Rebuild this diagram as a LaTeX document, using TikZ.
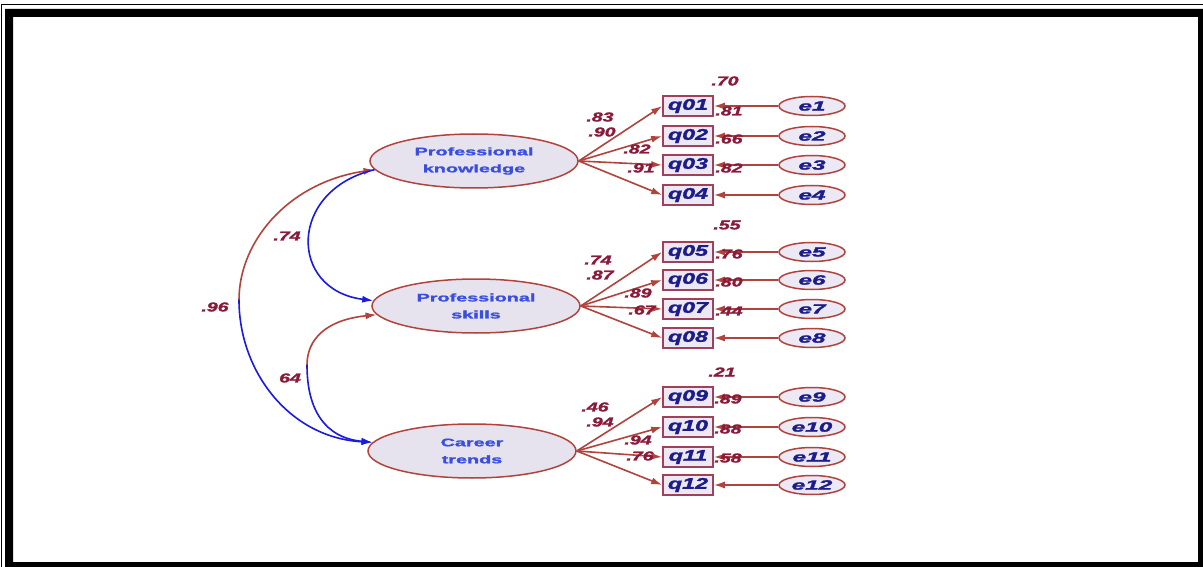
\documentclass[tikz,border=0pt]{standalone}
\usepackage{fontspec}
\setmainfont[BoldFeatures={FakeBold=1.5},BoldItalicFeatures={FakeBold=1.5}]{Liberation Sans}
\usepackage{graphicx}
\usetikzlibrary{arrows.meta,shapes.geometric}
\definecolor{lbl}{HTML}{8A1A3A}
\definecolor{edge}{HTML}{B0443C}
\definecolor{latfill}{HTML}{E6E3EF}
\definecolor{latblue}{HTML}{3A4FE0}
\definecolor{obsfill}{HTML}{ECE8F4}
\definecolor{obsedge}{HTML}{A0405A}
\definecolor{obstext}{HTML}{1C1C8A}
\definecolor{covblue}{HTML}{1A1AE0}
\newcommand\hstr[2]{\scalebox{#1}[1]{#2}}
\begin{document}
\begin{tikzpicture}[x=1pt,y=-1pt,
  lat/.style={ellipse, draw=edge, line width=1.5pt, fill=latfill, minimum width=208pt, minimum height=54pt, inner sep=0pt, align=center, text=latblue, font=\bfseries\fontsize{11}{17}\selectfont},
  obs/.style={rectangle, draw=obsedge, line width=1.6pt, fill=obsfill, minimum width=50pt, minimum height=20pt, inner sep=0pt, text=obstext, font=\bfseries\itshape\fontsize{15.5}{15}\selectfont},
  err/.style={ellipse, draw=edge, line width=1.5pt, fill=obsfill, minimum width=66pt, minimum height=19pt, inner sep=0pt, text=obstext, font=\bfseries\itshape\fontsize{13.5}{13}\selectfont},
  lab/.style={text=lbl, font=\bfseries\itshape\fontsize{13}{12}\selectfont, inner sep=0pt},
  pth/.style={draw=edge, line width=1.6pt, -{Latex[length=11pt,width=7pt]}},
  covr/.style={draw=edge, line width=1.6pt, -{Latex[length=11pt,width=7pt]}},
  covb/.style={draw=covblue, line width=1.6pt, -{Latex[length=11pt,width=7pt]}}
]
\useasboundingbox (0,0) rectangle (1203,567);
\fill[white] (0,0) rectangle (1203,567);
% frame
\draw[black, line width=1.2pt] (1.5,567) -- (1.5,4.5) -- (1203,4.5);
\fill[black, even odd rule] (5,9) rectangle (1203,567) (13,17) rectangle (1198,562);

% latent variables
\node[lat] (K) at (474,161) {\hstr{1.8}{Professional}\\\hstr{1.8}{knowledge}};
\node[lat] (S) at (476,306) {\hstr{1.8}{Professional}\\\hstr{1.8}{skills}};
\node[lat] (C) at (472,451) {\hstr{1.8}{Career}\\\hstr{1.8}{trends}};

% observed variables and errors
\foreach \n/\y in {01/106,02/136,03/165,04/195,05/252,06/280,07/309,08/338,09/397,10/427,11/457,12/485}{
  \node[obs] (q\n) at (688,\y) {\hstr{1.5}{q\n}};
}
\foreach \n/\m/\y in {01/1/106,02/2/136,03/3/165,04/4/195,05/5/252,06/6/280,07/7/309,08/8/338,09/9/397,10/10/427,11/11/457,12/12/485}{
  \node[err] (e\m) at (812,\y) {\hstr{1.8}{e\m}};
  \draw[pth] (e\m) -- (q\n);
}

% loadings
\foreach \q in {01,02,03,04}{\draw[pth] (K.east) -- (q\q.west);}
\foreach \q in {05,06,07,08}{\draw[pth] (S.east) -- (q\q.west);}
\foreach \q in {09,10,11,12}{\draw[pth] (C.east) -- (q\q.west);}

% covariances
\coordinate (m96) at (239,300);
\coordinate (m64) at (307,365);
\draw[covr] (m96) .. controls (239,240) and (290,182) .. (K.185);
\draw[covb] (m96) .. controls (239,372) and (290,438) .. (C.175);
\draw[covb] (K.185) .. controls (288,190) and (288,290) .. (S.177);
\draw[covr] (m64) .. controls (307,340) and (325,320) .. (S.185);
\draw[covb] (m64) .. controls (307,410) and (325,438) .. (C.175);

% covariance labels
\node[lab] (l96) at (215,307) {\hstr{1.5}{.96}};
\node[lab] (l74) at (287,236) {\hstr{1.5}{.74}};
\node[lab] (l64) at (290,378) {\hstr{1.5}{64}};

% loading labels
\node[lab] (a1) at (600,117) {\hstr{1.5}{.83}};
\node[lab] (a2) at (602,132) {\hstr{1.5}{.90}};
\node[lab] (a3) at (637,149) {\hstr{1.5}{.82}};
\node[lab] (a4) at (641,168) {\hstr{1.5}{.91}};
\node[lab] (a5) at (598,260) {\hstr{1.5}{.74}};
\node[lab] (a6) at (600,275) {\hstr{1.5}{.87}};
\node[lab] (a7) at (638,293) {\hstr{1.5}{.89}};
\node[lab] (a8) at (642,310) {\hstr{1.5}{.67}};
\node[lab] (a9) at (595,407) {\hstr{1.5}{.46}};
\node[lab] (a10) at (600,422) {\hstr{1.5}{.94}};
\node[lab] (a11) at (638,440) {\hstr{1.5}{.94}};
\node[lab] (a12) at (640,456) {\hstr{1.5}{.76}};

% squared multiple correlations
\node[lab] (r1) at (725,81) {\hstr{1.5}{.70}};
\node[lab] (r2) at (729,111) {\hstr{1.5}{.81}};
\node[lab] (r3) at (729,139) {\hstr{1.5}{.66}};
\node[lab] (r4) at (729,168) {\hstr{1.5}{.82}};
\node[lab] (r5) at (727,225) {\hstr{1.5}{.55}};
\node[lab] (r6) at (729,254) {\hstr{1.5}{.76}};
\node[lab] (r7) at (729,282) {\hstr{1.5}{.80}};
\node[lab] (r8) at (729,311) {\hstr{1.5}{.44}};
\node[lab] (r9) at (722,372) {\hstr{1.5}{.21}};
\node[lab] (r10) at (728,399) {\hstr{1.5}{.89}};
\node[lab] (r11) at (728,429) {\hstr{1.5}{.88}};
\node[lab] (r12) at (728,458) {\hstr{1.5}{.58}};
\end{tikzpicture}
\end{document}
